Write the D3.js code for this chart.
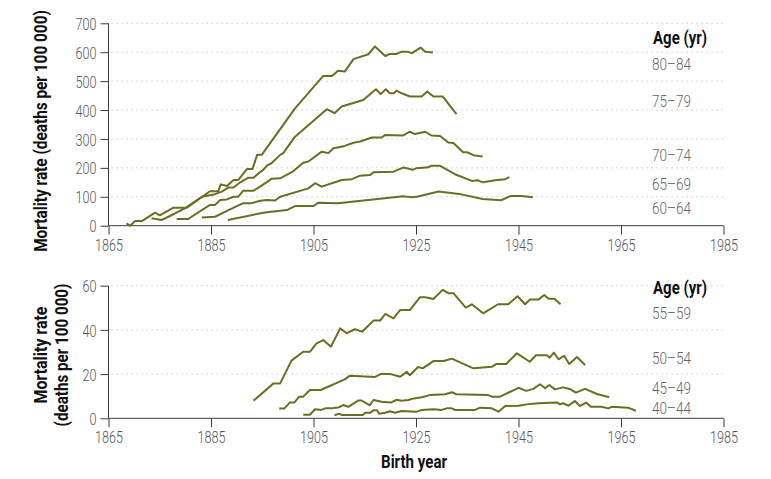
<!DOCTYPE html>
<html><head><meta charset="utf-8">
<script src="https://cdn.jsdelivr.net/npm/d3@7"></script>
<style>
body{margin:0;background:#fff;}
svg{display:block;}
text{font-family:"Roboto","Liberation Sans","DejaVu Sans",sans-serif;}
</style></head>
<body><div id="chart"></div>
<script>
// ---------- data (birth year, mortality rate per 100 000) ----------
const xTicks = [1865, 1885, 1905, 1925, 1945, 1965, 1985];
const topYTicks = [0, 100, 200, 300, 400, 500, 600, 700];
const botYTicks = [0, 20, 40, 60];

const topAges = ["80–84", "75–79", "70–74", "65–69", "60–64"];
const topLabelAt = [561, 431, 245, 146, 60];
const botAges = ["55–59", "50–54", "45–49", "40–44"];
const botLabelAt = [47.5, 27.5, 13.9, 4.5];

const yr80 = [1868.5,1869.2,1870.2,1871.5,1874.1,1875.0,1877.6,1880.3,1883.8,1884.8,1886.4,1886.9,1888.1,1889.4,1890.3,1892.0,1893.1,1894.0,1894.9,1901.4,1906.9,1908.6,1909.8,1911.1,1912.8,1915.7,1917.0,1919.0,1919.9,1921.2,1922.2,1923.2,1924.2,1925.9,1926.8,1928.3];
const mr80 = [8,0,16,16,45,36,62,62,106,119,119,143,137,158,158,196,196,245,245,406,518,518,536,533,576,593,620,587,594,594,602,602,597,616,602,599];

const yr75 = [1873.4,1875.4,1876.7,1879.9,1883.2,1885.8,1887.1,1888.4,1889.4,1890.7,1892.3,1893.3,1894.4,1895.2,1895.9,1896.8,1898.5,1899.1,1901.4,1907.6,1909.1,1910.5,1914.7,1917.2,1918.1,1919.1,1919.9,1920.7,1921.2,1922.2,1923.8,1926.1,1927.2,1928.4,1930.2,1932.9];
const mr75 = [26,20,31,60,100,109,118,132,132,150,166,166,183,193,208,216,245,251,308,403,389,412,435,472,455,472,458,458,467,458,447,447,464,447,447,386];

const yr70 = [1878.3,1880.6,1881.2,1884.8,1885.8,1886.8,1888.1,1889.4,1890.3,1891.3,1893.3,1894.6,1896.8,1898.5,1901.1,1903.0,1904.0,1906.6,1907.9,1908.9,1911.1,1912.8,1914.1,1916.4,1918.3,1919.0,1922.5,1923.8,1924.8,1926.8,1928.0,1929.7,1931.3,1932.3,1934.2,1935.0,1936.2,1938.0];
const mr70 = [23,23,31,72,72,89,91,100,100,121,121,135,162,164,189,218,222,256,251,268,276,287,291,305,305,314,312,325,317,325,312,310,288,286,254,254,244,239];

const yr65 = [1883.2,1885.8,1888.4,1891.3,1892.9,1894.6,1895.9,1897.5,1898.5,1904.0,1905.3,1906.6,1910.5,1912.5,1914.1,1916.0,1916.7,1920.6,1922.5,1923.8,1924.3,1925.1,1927.4,1927.9,1929.7,1932.6,1935.9,1937.0,1938.1,1940.4,1942.4,1943.2];
const mr65 = [28,31,54,78,78,86,89,87,100,129,147,135,158,161,173,175,185,187,201,196,193,199,202,207,207,178,155,157,150,157,161,168];

const yr60 = [1888.3,1895.5,1899.8,1901.4,1905.0,1905.9,1909.8,1922.5,1924.2,1925.4,1929.4,1933.4,1938.0,1941.6,1943.5,1945.6,1947.8];
const mr60 = [20,46,54,68,68,79,78,102,98,101,118,110,92,88,103,103,98];

const yr55 = [1893.3,1897.2,1898.5,1900.7,1903.0,1904.3,1905.6,1906.9,1908.4,1910.2,1911.5,1913.1,1914.5,1916.7,1918.0,1919.0,1920.6,1921.9,1923.8,1925.8,1926.8,1928.4,1930.2,1931.3,1932.3,1934.7,1935.9,1938.1,1941.0,1943.0,1944.8,1946.3,1947.2,1948.9,1950.0,1950.9,1952.0,1953.2];
const mr55 = [8.0,15.8,15.8,26.1,30.1,30.1,33.9,35.4,32.4,40.7,38.5,40.3,39.2,44.2,44.2,47.2,45.2,49.0,49.0,54.8,54.8,54.0,58.1,56.6,56.6,50.1,51.6,47.5,51.6,51.6,55.2,51.6,53.7,53.7,55.8,54.1,54.1,51.6];

const yr50 = [1898.3,1899.3,1900.4,1901.3,1902.2,1903.0,1904.3,1906.4,1911.1,1912.1,1917.0,1918.2,1919.9,1921.9,1923.2,1923.8,1925.4,1926.3,1928.4,1930.4,1932.0,1936.2,1939.8,1940.7,1942.6,1944.7,1947.2,1948.4,1950.5,1951.1,1951.9,1952.8,1953.9,1954.9,1956.4,1958.0];
const mr50 = [4.4,4.4,7.2,7.2,9.8,9.8,12.8,12.8,17.6,19.3,18.7,20.1,20.1,18.8,21.0,19.5,23.2,22.6,25.9,25.9,27.0,22.6,23.3,24.6,24.6,29.4,25.6,28.5,28.5,27.4,29.7,26.7,28.3,24.6,27.7,24.1];

const yr45 = [1903.0,1904.3,1905.3,1906.5,1907.3,1908.6,1909.2,1909.9,1910.8,1911.8,1913.7,1914.4,1916.0,1916.7,1918.3,1920.1,1921.2,1922.2,1923.5,1924.6,1926.1,1927.7,1930.7,1932.0,1932.9,1939.1,1939.8,1941.4,1945.0,1946.5,1947.9,1949.2,1950.2,1951.0,1952.1,1953.7,1955.0,1956.2,1958.0,1960.3,1962.7];
const mr45 = [1.6,1.6,4.1,3.8,4.5,4.5,4.8,4.9,6.0,5.2,8.0,8.0,5.9,8.3,7.5,7.1,8.4,7.9,8.3,9.0,9.5,10.5,10.9,11.8,10.9,10.5,9.8,9.8,13.8,12.4,13.3,15.4,13.6,15.1,13.1,14.0,13.3,11.6,13.3,11.0,9.5];

const yr40 = [1909.1,1910.0,1910.5,1914.6,1915.1,1916.1,1916.7,1917.4,1917.8,1919.0,1919.9,1920.9,1922.2,1925.1,1926.2,1928.4,1930.0,1931.0,1932.0,1932.6,1936.5,1937.5,1939.8,1941.1,1942.4,1945.0,1946.6,1948.9,1952.5,1953.1,1953.7,1954.7,1956.0,1957.0,1958.2,1959.1,1961.2,1962.5,1963.2,1966.4,1967.9];
const mr40 = [1.4,2.1,1.5,1.5,2.5,2.5,3.6,3.6,2.1,2.5,3.2,2.5,3.3,3.0,3.8,4.1,3.8,4.5,4.5,3.8,3.8,4.8,4.5,3.0,5.6,5.7,6.3,6.8,7.2,6.3,6.8,5.7,7.8,5.6,7.1,5.2,5.2,4.5,5.2,4.8,3.4];

const topSeries = [[yr80,mr80],[yr75,mr75],[yr70,mr70],[yr65,mr65],[yr60,mr60]];
const botSeries = [[yr55,mr55],[yr50,mr50],[yr45,mr45],[yr40,mr40]];

// ---------- drawing ----------
const W = 771, H = 479;
const svg = d3.select("#chart").append("svg").attr("width", W).attr("height", H);
const lineColor = "#6c6c22";
const axisColor = "#3a3a3a";
const tickText = "#555";

// condensed look for small labels: squeeze text to a target width
function squeeze(sel, perChar) {
  sel.each(function() {
    const t = d3.select(this);
    const n = t.text().length;
    t.attr("textLength", n * perChar).attr("lengthAdjust", "spacingAndGlyphs");
  });
}
function fitW(sel, w) { sel.attr("textLength", w).attr("lengthAdjust", "spacingAndGlyphs"); }

// condensed title: a text squeezed horizontally by a transform so its box stays true
function condensedTitle(tx, ty, rot, str, targetW, anchor) {
  const g = svg.append("g").attr("transform", `translate(${tx},${ty}) rotate(${rot})`);
  const t = g.append("text").attr("text-anchor", anchor || "middle").attr("dy", "0.36em")
    .style("font-size", "18px").style("font-weight", "bold").attr("fill", "#111").text(str);
  const w = t.node().getComputedTextLength();
  t.attr("transform", `scale(${targetW / w},1)`);
  return t;
}

const x = d3.scaleLinear().domain([1865, 1985]).range([108.5, 723.5]);

function panel(yDomain, yRange, yTicks, series, ages, labelAt, labelY0) {
  const y = d3.scaleLinear().domain(yDomain).range(yRange);
  const g = svg.append("g");
  // gridlines
  g.selectAll("line.grid").data(yTicks.filter(d => d > 0)).join("line")
    .attr("x1", x(1865) + 3).attr("x2", 726)
    .attr("y1", d => y(d)).attr("y2", d => y(d))
    .attr("stroke", "#b8b8b8").attr("stroke-width", 1)
    .attr("stroke-dasharray", "1.2,3.8");
  // y axis
  const ya = g.append("g").attr("transform", `translate(${x(1865)},0)`)
    .call(d3.axisLeft(y).tickValues(yTicks).tickSize(8).tickPadding(4).tickFormat(d3.format("d")));
  ya.select(".domain").attr("stroke", axisColor).attr("d", `M0,${y(yDomain[0])}V${y(yDomain[1])}`);
  ya.selectAll(".tick line").attr("stroke", axisColor);
  ya.selectAll(".tick text").attr("fill", tickText).style("font-size", "17px").style("font-weight", "300")
    .style("font-family", "Roboto, sans-serif").attr("dy", "0.36em").call(squeeze, 7);
  // x axis
  const xa = g.append("g").attr("transform", `translate(0,${y(0)})`)
    .call(d3.axisBottom(x).tickValues(xTicks).tickSize(9).tickPadding(4).tickFormat(d3.format("d")));
  xa.select(".domain").attr("stroke", axisColor).attr("d", `M${x(1865)},0H${x(1985)}`);
  xa.selectAll(".tick line").attr("stroke", axisColor);
  xa.selectAll(".tick text").attr("fill", tickText).style("font-size", "17px").style("font-weight", "300")
    .style("font-family", "Roboto, sans-serif").call(squeeze, 7);
  // lines
  const line = d3.line().x(d => x(d[0])).y(d => y(d[1]));
  series.forEach(([yr, mr]) => {
    g.append("path").datum(yr.map((v, i) => [v, mr[i]]))
      .attr("d", line).attr("fill", "none")
      .attr("stroke", lineColor).attr("stroke-width", 2).attr("stroke-linejoin", "round");
  });
  // legend
  g.append("text").attr("x", 653).attr("y", labelY0).attr("dy", "0.35em")
    .style("font-size", "19px").style("font-weight", "bold").attr("fill", "#111").text("Age (yr)")
    .call(fitW, 54);
  g.selectAll("text.lab").data(ages).join("text")
    .attr("x", 652).attr("y", (d, i) => y(labelAt[i])).attr("dy", "0.36em")
    .style("font-size", "17px").style("font-weight", "300").attr("fill", "#666").text(d => d)
    .call(fitW, 39);
  return y;
}

panel([0, 700], [225.7, 23.3], topYTicks, topSeries, topAges, topLabelAt, 37);
panel([0, 60], [418.3, 285.7], botYTicks, botSeries, botAges, botLabelAt, 287);

// axis titles
condensedTitle(41, 131, -90, "Mortality rate (deaths per 100 000)", 242);
condensedTitle(41, 355, -90, "Mortality rate", 97);
condensedTitle(62, 355, -90, "(deaths per 100 000)", 143);
condensedTitle(414, 462, 0, "Birth year", 66);
</script></body></html>
